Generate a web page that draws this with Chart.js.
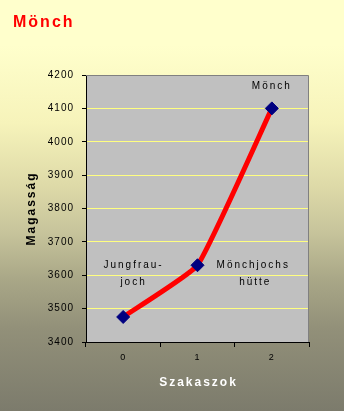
<!DOCTYPE html>
<html>
<head>
<meta charset="utf-8">
<script src="https://cdn.jsdelivr.net/npm/chart.js@4.4.1/dist/chart.umd.min.js"></script>
<style>
  html, body { margin: 0; padding: 0; background: #ffffcc; }
  #wrap { width: 344px; height: 411px; position: relative; }
</style>
</head>
<body>
<div id="wrap"><canvas id="myChart" width="344" height="411"></canvas></div>
<script>
// data
const categories = ["0", "1", "2"];
const heights = [3475, 3630, 4100];
const pointNames = [["Jungfrau-", "joch"], ["Mönchjochs", "hütte"], ["Mönch"]];
const yTicks = [3400, 3500, 3600, 3700, 3800, 3900, 4000, 4100, 4200];

const chartTitle = "Mönch";
const xTitle = "Szakaszok";
const yTitle = "Magasság";

function spacedText(ctx, text, x, y, spacing) {
  ctx.letterSpacing = spacing + "px";
  ctx.fillText(text, x, y);
  ctx.letterSpacing = "0px";
}

// background, plot area and texts
const decor = {
  id: "decor",
  beforeDraw(chart) {
    const ctx = chart.ctx;
    const area = chart.chartArea;
    ctx.save();
    const g = ctx.createLinearGradient(0, 0, 0, chart.height);
    g.addColorStop(0, "#ffffcc");
    g.addColorStop(0.11, "#ffffcc");
    g.addColorStop(0.3, "#f6f3ba");
    g.addColorStop(0.45, "#dedaa8");
    g.addColorStop(0.56, "#c8c59c");
    g.addColorStop(0.68, "#a9a787");
    g.addColorStop(0.8, "#929079");
    g.addColorStop(1, "#7c7b6c");
    ctx.fillStyle = g;
    ctx.fillRect(0, 0, chart.width, chart.height);
    ctx.fillStyle = "#c0c0c0";
    ctx.fillRect(area.left, area.top, area.right - area.left, area.bottom - area.top);
    ctx.restore();
    // spaced tick labels
    ctx.letterSpacing = "1px";
  },
  afterDraw(chart) {
    const ctx = chart.ctx;
    const area = chart.chartArea;
    const xs = chart.scales.x;
    const ys = chart.scales.y;
    ctx.save();
    ctx.letterSpacing = "0px";
    // top and right border
    ctx.strokeStyle = "#808080";
    ctx.lineWidth = 1;
    ctx.beginPath();
    ctx.moveTo(area.left, area.top + 0.5);
    ctx.lineTo(area.right - 0.5, area.top + 0.5);
    ctx.lineTo(area.right - 0.5, area.bottom);
    ctx.stroke();

    // chart title
    ctx.fillStyle = "#ff0000";
    ctx.font = "bold 16px 'Liberation Sans', Arial, sans-serif";
    ctx.textAlign = "left";
    ctx.textBaseline = "middle";
    spacedText(ctx, chartTitle, 13, 23, 2);

    // x title
    ctx.fillStyle = "#ffffff";
    ctx.font = "bold 12px 'Liberation Sans', Arial, sans-serif";
    ctx.textAlign = "center";
    spacedText(ctx, xTitle, (area.left + area.right) / 2 + 1, 383, 2);

    // y title
    ctx.save();
    ctx.translate(32, (area.top + area.bottom) / 2);
    ctx.rotate(-Math.PI / 2);
    ctx.fillStyle = "#000000";
    spacedText(ctx, yTitle, 0, 0, 2);
    ctx.restore();

    // point names
    ctx.fillStyle = "#000000";
    ctx.font = "10px 'Liberation Sans', Arial, sans-serif";
    const step = xs.getPixelForValue(1) - xs.getPixelForValue(0);
    const x0 = xs.getPixelForValue(0) + step * 0.14;
    const y0 = ys.getPixelForValue(heights[1]);
    spacedText(ctx, pointNames[0][0], x0, y0, 2);
    spacedText(ctx, pointNames[0][1], x0, y0 + 17, 2);
    const x1 = xs.getPixelForValue(1) + step * 0.75;
    spacedText(ctx, pointNames[1][0], x1, y0, 2);
    spacedText(ctx, pointNames[1][1], x1 + 2, y0 + 17, 2);
    const x2 = xs.getPixelForValue(2);
    spacedText(ctx, pointNames[2][0], x2, ys.getPixelForValue(heights[2]) - 22, 2);
    ctx.restore();
  }
};

const ctx = document.getElementById("myChart").getContext("2d");
const myChart = new Chart(ctx, {
  type: "line",
  data: {
    labels: categories,
    datasets: [
      {
        data: heights,
        borderColor: "#ff0000",
        borderWidth: 5,
        tension: 0.12,
        pointStyle: "rectRot",
        pointRadius: 6.5,
        pointBackgroundColor: "#000080",
        pointBorderColor: "#000080",
        pointBorderWidth: 1,
        fill: false,
      },
    ],
  },
  options: {
    responsive: false,
    animation: false,
    events: [],
    layout: { padding: { top: 75, right: 35, left: 0, bottom: 0 } },
    plugins: {
      legend: { display: false },
      title: { display: false },
      tooltip: { enabled: false },
    },
    scales: {
      x: {
        offset: true,
        grid: {
          offset: true,
          drawOnChartArea: false,
          tickLength: 5,
          tickColor: "#000000",
        },
        border: { color: "#000000", width: 1 },
        ticks: {
          color: "#000000",
          font: { family: "'Liberation Sans', Arial, sans-serif", size: 9 },
          padding: 5,
        },
        afterFit(scale) { scale.height = 69; },
      },
      y: {
        min: 3400,
        max: 4200,
        afterBuildTicks(scale) { scale.ticks = yTicks.map((v) => ({ value: v })); },
        grid: {
          color: "#ffff80",
          lineWidth: 1,
          tickLength: 4,
          tickColor: "#000000",
        },
        border: { color: "#000000", width: 1 },
        ticks: {
          color: "#000000",
          font: { family: "'Liberation Sans', Arial, sans-serif", size: 10 },
          padding: 8,
          callback: (v) => String(v),
        },
        afterFit(scale) { scale.width = 86; },
      },
    },
  },
  plugins: [decor],
});
</script>
</body>
</html>
